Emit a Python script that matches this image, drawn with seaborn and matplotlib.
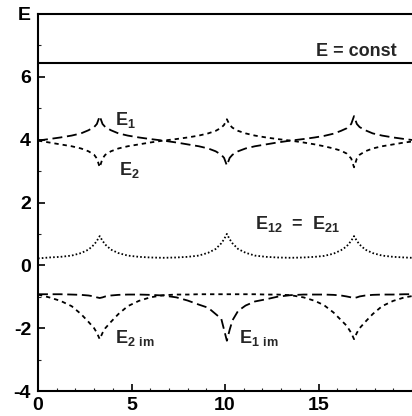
import matplotlib
matplotlib.use("Agg")
import matplotlib.pyplot as plt
import seaborn as sns
import pandas as pd
from matplotlib.ticker import MultipleLocator

# Sample positions along the period (x axis)
x = [0, 0.6, 1.2, 1.8, 2.3, 2.7, 3.0, 3.15, 3.3, 3.45, 3.6, 3.9, 4.3, 4.8,
     5.4, 6.0, 6.7, 7.4, 8.0, 8.6, 9.1, 9.5, 9.8, 9.95, 10.1, 10.25, 10.4,
     10.7, 11.1, 11.6, 12.2, 12.8, 13.5, 14.2, 14.8, 15.3, 15.8, 16.2, 16.5,
     16.75, 16.9, 17.05, 17.2, 17.5, 17.9, 18.4, 19.0, 19.6, 20.0]

# Real parts of the two branches
e1 = [3.97, 4.02, 4.07, 4.13, 4.20, 4.30, 4.40, 4.50, 4.75, 4.50, 4.40, 4.30,
      4.20, 4.13, 4.07, 4.02, 3.97, 3.91, 3.85, 3.79, 3.72, 3.63, 3.52, 3.42,
      3.18, 3.42, 3.52, 3.63, 3.72, 3.79, 3.85, 3.91, 3.97, 4.02, 4.07, 4.12,
      4.19, 4.28, 4.36, 4.50, 4.75, 4.50, 4.40, 4.30, 4.20, 4.13, 4.07, 4.02,
      3.99]
e2 = [3.97, 3.91, 3.85, 3.79, 3.72, 3.63, 3.52, 3.40, 3.12, 3.40, 3.52, 3.63,
      3.72, 3.79, 3.85, 3.91, 3.97, 4.02, 4.07, 4.13, 4.20, 4.28, 4.38, 4.47,
      4.65, 4.47, 4.38, 4.28, 4.20, 4.13, 4.07, 4.02, 3.97, 3.91, 3.85, 3.79,
      3.72, 3.65, 3.56, 3.40, 3.12, 3.40, 3.52, 3.63, 3.72, 3.79, 3.85, 3.91,
      3.94]

# Coupling term
e12 = [0.22, 0.25, 0.27, 0.31, 0.39, 0.50, 0.66, 0.78, 0.93, 0.78, 0.66, 0.50,
       0.39, 0.31, 0.27, 0.25, 0.24, 0.25, 0.27, 0.31, 0.40, 0.52, 0.70, 0.83,
       1.00, 0.83, 0.70, 0.52, 0.40, 0.31, 0.27, 0.25, 0.24, 0.25, 0.27, 0.30,
       0.37, 0.48, 0.60, 0.78, 0.93, 0.78, 0.66, 0.50, 0.39, 0.31, 0.27, 0.25,
       0.24]

# Imaginary parts of the two branches
e1_im = [-0.92, -0.92, -0.92, -0.93, -0.94, -0.96, -0.99, -1.02, -1.04, -1.02,
         -0.99, -0.96, -0.94, -0.93, -0.93, -0.94, -0.96, -1.02, -1.12, -1.25,
         -1.35, -1.55, -1.70, -2.05, -2.40, -2.05, -1.75, -1.45, -1.28, -1.15,
         -1.08, -1.00, -0.95, -0.93, -0.93, -0.93, -0.94, -0.96, -0.99, -1.02,
         -1.04, -1.02, -0.99, -0.96, -0.94, -0.93, -0.93, -0.92, -0.92]
e2_im = [-0.93, -1.02, -1.13, -1.30, -1.55, -1.80, -2.00, -2.15, -2.35, -2.15,
         -2.00, -1.80, -1.55, -1.30, -1.13, -1.02, -0.95, -0.93, -0.93, -0.92,
         -0.92, -0.92, -0.92, -0.92, -0.92, -0.92, -0.92, -0.92, -0.92, -0.92,
         -0.93, -0.93, -0.95, -1.02, -1.13, -1.27, -1.50, -1.74, -1.92, -2.15,
         -2.35, -2.15, -2.00, -1.80, -1.55, -1.30, -1.13, -1.02, -0.98]

e_const = 6.45

y_ticks = [-4, -2, 0, 2, 4, 6, 8]
y_tick_labels = ["-4", "-2", "0", "2", "4", "6", "E"]
x_ticks = [0, 5, 10, 15]

sns.set_style("ticks")
plt.rcParams["font.family"] = ["Liberation Sans", "DejaVu Sans"]
plt.rcParams["font.weight"] = "bold"
plt.rcParams["axes.unicode_minus"] = False
plt.rcParams["mathtext.fontset"] = "custom"
plt.rcParams["mathtext.rm"] = "Liberation Sans:bold"
plt.rcParams["mathtext.bf"] = "Liberation Sans:bold"

fig = plt.figure(figsize=(4.12, 4.16), dpi=100)
ax = fig.add_axes([38 / 412, 1 - 391 / 416, 374 / 412, 377 / 416])

df = pd.DataFrame({"x": x, "e1": e1, "e2": e2, "e12": e12,
                   "e1_im": e1_im, "e2_im": e2_im})

lw = 1.3
long_dash = (0, (5.5, 2.6))
short_dash = (0, (2.4, 2.2))
dots = (0, (0.9, 1.2))

sns.lineplot(data=df, x="x", y="e1", ax=ax, color="black", lw=lw, linestyle=long_dash, sort=False)
sns.lineplot(data=df, x="x", y="e2", ax=ax, color="black", lw=lw, linestyle=short_dash, sort=False)
sns.lineplot(data=df, x="x", y="e12", ax=ax, color="black", lw=lw, linestyle=dots, sort=False)
sns.lineplot(data=df, x="x", y="e1_im", ax=ax, color="black", lw=lw, linestyle=long_dash, sort=False)
sns.lineplot(data=df, x="x", y="e2_im", ax=ax, color="black", lw=lw, linestyle=short_dash, sort=False)
ax.axhline(e_const, color="black", lw=1.5)

ax.set_xlim(0, 20)
ax.set_ylim(-4, 8)
ax.set_xlabel("")
ax.set_ylabel("")
ax.set_xticks(x_ticks)
ax.set_yticks(y_ticks)
ax.set_yticklabels(y_tick_labels)
ax.xaxis.set_minor_locator(MultipleLocator(1))
ax.yaxis.set_minor_locator(MultipleLocator(1))

for s in ["left", "bottom", "top"]:
    ax.spines[s].set_linewidth(1.5)
    ax.spines[s].set_color("black")
ax.spines["right"].set_visible(False)

ax.tick_params(axis="both", which="major", direction="in", length=5, width=1.2,
               labelsize=14, colors="black")
ax.tick_params(axis="both", which="minor", direction="in", length=2.5, width=0.8)
ax.tick_params(axis="x", which="both", top=False, pad=4)
ax.tick_params(axis="y", which="both", right=False, pad=5)

fs = 13
ax.text(17.0, 6.82, "E = const", fontsize=fs, ha="center", va="center")
ax.text(4.1, 4.62, r"$\mathbf{E_{1}}$", fontsize=fs, ha="left", va="center")
ax.text(4.35, 3.05, r"$\mathbf{E_{2}}$", fontsize=fs, ha="left", va="center")
ax.text(11.6, 1.33, r"$\mathbf{E_{12}\ =\ E_{21}}$", fontsize=fs, ha="left", va="center")
ax.text(4.1, -2.3, r"$\mathbf{E_{2\ im}}$", fontsize=fs, ha="left", va="center")
ax.text(10.75, -2.3, r"$\mathbf{E_{1\ im}}$", fontsize=fs, ha="left", va="center")

fig.savefig("out.png", dpi=100)
